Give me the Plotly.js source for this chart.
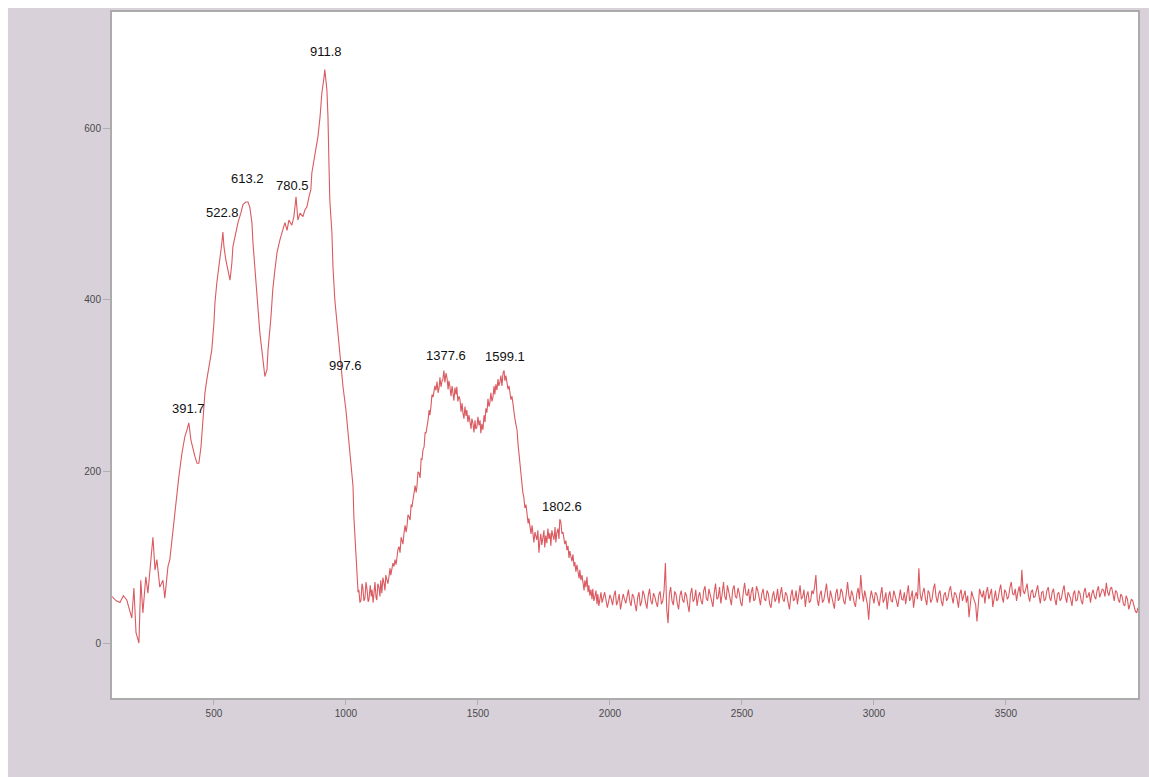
<!DOCTYPE html>
<html>
<head>
<meta charset="utf-8">
<script src="https://cdn.plot.ly/plotly-3.0.1.min.js"></script>
<style>html,body{margin:0;padding:0;background:#fff;}#chart{width:1149px;height:777px;}</style>
</head>
<body>
<div id="chart"></div>
<script>
// Raman shift (cm-1), low-wavenumber band region
const shiftLow = [
  114,130,144,157,170,180,189,197,205,216,
  223,231,242,250,261,269,277,284,295,307,
  314,326,333,345,356,367,379,390,398,405,
  413,420,428,436,443,451,458,466,473,492,
  500,504,511,519,530,534,538,545,553,561,
  568,572,583,591,602,610,621,629,636,644,
  648,655,663,674,686,693,701,705,716,723,
  731,739,750,761,769,777,784,795,803,811,
  818,826,837,845,852,860,867,871,879,886,
  894,902,909,917,920,928,932,936,939,947,
  951,958,966,973,981,989,1000,1008,1019,1027,
  1030,1038
];
const intensityLow = [
  55,50,48,56,51,40,30,65,13,1,
  74,36,78,59,98,124,86,98,66,74,
  53,90,98,133,167,194,222,241,249,257,
  237,226,218,210,210,229,260,292,307,342,
  373,397,420,438,466,479,462,447,435,423,
  443,462,478,490,501,511,514,514,508,490,
  466,438,400,362,330,311,319,342,380,412,
  435,455,470,481,490,481,493,487,497,520,
  493,501,497,505,508,520,528,548,563,575,
  590,613,641,659,668,644,613,555,516,478,
  438,400,373,350,322,299,272,245,214,183,
  148,109
];
// Mid region (valley, 1377/1599 doublet, 1802 shoulder)
const shiftMid = [
  1042,1046,1049,1053,1057,1061,1064,1068,1072,1076,
  1080,1084,1087,1092,1096,1099,1103,1106,1110,1114,
  1117,1121,1125,1129,1132,1136,1140,1144,1148,1151,
  1155,1159,1163,1167,1170,1174,1178,1182,1186,1190,
  1193,1197,1201,1205,1209,1212,1216,1220,1224,1228,
  1231,1235,1239,1243,1247,1250,1254,1258,1262,1266,
  1269,1273,1277,1281,1285,1288,1292,1296,1300,1303,
  1307,1311,1315,1318,1322,1326,1330,1334,1337,1341,
  1345,1349,1353,1356,1360,1364,1367,1371,1375,1379,
  1383,1387,1390,1394,1398,1402,1405,1409,1413,1417,
  1420,1424,1428,1432,1436,1440,1443,1447,1451,1455,
  1458,1462,1466,1470,1474,1477,1481,1485,1489,1492,
  1496,1500,1504,1508,1511,1515,1519,1523,1527,1530,
  1534,1538,1542,1545,1549,1553,1557,1561,1564,1568,
  1572,1576,1579,1583,1587,1591,1595,1599,1602,1606,
  1610,1614,1618,1621,1625,1629,1633,1637,1640,1644,
  1648,1652,1655,1659,1663,1666,1670,1674,1678,1682,
  1686,1690,1693,1697,1701,1705,1708,1712,1716,1719,
  1723,1727,1731,1735,1738,1742,1746,1750,1753,1757,
  1761,1765,1769,1773,1776,1780,1784,1788,1792,1795,
  1799,1803,1807,1810,1814,1818,1822,1826,1829,1833,
  1837,1841,1845,1848,1852,1856,1860,1864,1867,1871,
  1875,1879,1883,1886,1890,1894,1898,1902,1905,1909,
  1913,1917,1920,1924,1928,1932,1935,1939,1943,1947,
  1951,1954,1958,1962,1966
];
const intensityMid = [
  78,60,63,48,51,70,66,50,53,72,
  63,49,51,68,55,63,48,59,72,54,
  51,70,66,55,74,59,77,71,62,80,
  74,70,78,88,80,86,94,90,98,92,
  101,110,113,106,124,121,116,129,138,130,
  136,150,148,144,162,159,168,171,184,176,
  183,200,199,193,216,214,226,229,246,245,
  252,260,272,266,276,290,287,294,300,295,
  305,292,298,310,299,306,307,318,304,315,
  309,296,306,299,288,300,292,283,298,290,
  299,282,288,284,270,280,269,262,276,265,
  272,258,266,260,250,262,257,246,260,250,
  252,264,254,260,245,256,249,266,258,274,
  269,285,276,280,292,282,287,300,290,302,
  295,308,300,304,312,300,315,318,306,312,
  304,296,300,295,284,288,276,268,262,255,
  249,232,222,210,196,188,176,170,158,162,
  152,140,146,136,128,138,129,118,130,124,
  121,132,106,120,128,115,124,132,112,126,
  117,134,122,129,114,132,126,121,136,118,
  129,134,122,145,142,128,130,124,116,120,
  109,114,100,108,101,96,104,90,95,84,
  92,83,76,86,74,80,71,62,74,66,
  78,60,68,56,63,52,64,50,55,62,
  46,58,44,51,60
];
// Baseline region
const shiftHigh = [
  1970,1975,1980,1985,1990,1995,2000,2005,2010,2015,2020,2025,2030,2035,2040,2045,2050,2055,2060,2065,
  2070,2075,2080,2085,2090,2095,2100,2105,2110,2115,2120,2125,2130,2135,2140,2145,2150,2155,2160,2165,
  2170,2175,2180,2185,2190,2195,2200,2205,2210,2215,2220,2225,2230,2235,2240,2245,2250,2255,2260,2265,
  2270,2275,2280,2285,2290,2295,2300,2305,2310,2315,2320,2325,2330,2335,2340,2345,2350,2355,2360,2365,
  2370,2375,2380,2385,2390,2395,2400,2405,2410,2415,2420,2425,2430,2435,2440,2445,2450,2455,2460,2465,
  2470,2475,2480,2485,2490,2495,2500,2505,2510,2515,2520,2525,2530,2535,2540,2545,2550,2555,2560,2565,
  2570,2575,2580,2585,2590,2595,2600,2605,2610,2615,2620,2625,2630,2635,2640,2645,2650,2655,2660,2665,
  2670,2675,2680,2685,2690,2695,2700,2705,2710,2715,2720,2725,2730,2735,2740,2745,2750,2755,2760,2765,
  2770,2775,2780,2785,2790,2795,2800,2805,2810,2815,2820,2825,2830,2835,2840,2845,2850,2855,2860,2865,
  2870,2875,2880,2885,2890,2895,2900,2905,2910,2915,2920,2925,2930,2935,2940,2945,2950,2955,2960,2965,
  2970,2975,2980,2985,2990,2995,3000,3005,3010,3015,3020,3025,3030,3035,3040,3045,3050,3055,3060,3065,
  3070,3075,3080,3085,3090,3095,3100,3105,3110,3115,3120,3125,3130,3135,3140,3145,3150,3155,3160,3165,
  3170,3175,3180,3185,3190,3195,3200,3205,3210,3215,3220,3225,3230,3235,3240,3245,3250,3255,3260,3265,
  3270,3275,3280,3285,3290,3295,3300,3305,3310,3315,3320,3325,3330,3335,3340,3345,3350,3355,3360,3365,
  3370,3375,3380,3385,3390,3395,3400,3405,3410,3415,3420,3425,3430,3435,3440,3445,3450,3455,3460,3465,
  3470,3475,3480,3485,3490,3495,3500,3505,3510,3515,3520,3525,3530,3535,3540,3545,3550,3555,3560,3565,
  3570,3575,3580,3585,3590,3595,3600,3605,3610,3615,3620,3625,3630,3635,3640,3645,3650,3655,3660,3665,
  3670,3675,3680,3685,3690,3695,3700,3705,3710,3715,3720,3725,3730,3735,3740,3745,3750,3755,3760,3765,
  3770,3775,3780,3785,3790,3795,3800,3805,3810,3815,3820,3825,3830,3835,3840,3845,3850,3855,3860,3865,
  3870,3875,3880,3885,3890,3895,3900,3905,3910,3915,3920,3925,3930,3935,3940,3945,3950,3955,3960,3965,
  3970,3975,3980,3985,3990,3995,4000
];
const intensityHigh = [
  48,55,60,51,42,49,57,52,45,56,62,45,50,58,40,49,58,52,47,55,
  63,50,44,58,55,46,38,54,60,44,49,62,57,48,41,56,64,50,46,59,
  55,48,43,57,61,46,50,62,94,40,24,58,66,50,45,61,58,47,40,56,
  62,51,48,60,56,45,37,58,65,49,52,63,44,55,60,50,46,62,67,53,
  50,64,58,49,43,60,70,52,54,66,47,58,72,55,51,68,61,50,45,63,
  68,55,53,65,59,48,44,60,71,58,56,64,48,60,66,50,52,67,62,54,
  45,58,64,52,50,62,58,46,42,55,61,49,53,64,47,58,66,52,49,60,
  57,48,40,56,63,50,52,62,46,57,68,52,55,63,43,56,61,48,50,62,
  58,66,80,52,44,57,62,48,51,60,70,55,47,62,56,50,41,58,64,50,
  53,64,60,50,46,58,72,56,50,62,57,48,43,58,65,52,80,60,49,62,
  55,46,28,52,62,54,47,60,58,50,44,57,66,48,52,60,40,55,61,50,
  49,62,57,50,43,56,63,52,51,60,46,58,68,50,54,62,42,55,60,52,
  88,58,50,60,65,52,45,62,59,48,52,64,70,55,48,58,62,50,44,57,
  60,50,53,62,67,55,47,60,58,52,42,58,63,50,55,62,48,56,31,48,
  61,55,50,46,26,52,64,58,54,62,47,60,66,52,58,64,43,55,62,50,
  52,62,69,55,48,63,60,52,55,66,72,58,57,64,50,60,67,55,86,62,
  58,64,70,56,49,60,63,54,55,62,68,56,47,60,61,50,52,62,66,54,
  50,60,64,52,45,58,60,50,53,62,68,55,48,60,57,52,44,58,62,50,
  51,62,59,50,46,60,65,54,55,60,48,58,63,55,52,62,67,54,58,64,
  62,55,71,60,56,64,66,58,50,62,60,52,48,58,55,46,44,56,52,40,
  45,52,50,44,38,36,42
];

// Peak labels and where they sit (data units)
const peakLabels = ["391.7","522.8","613.2","780.5","911.8","997.6","1377.6","1599.1","1802.6"];
const peakLabelX = [405, 534, 626, 796, 926, 997, 1379, 1602, 1819];
const peakLabelY = [274, 502, 541, 533, 689, 324, 336, 334, 160];

const xTicks = [500, 1000, 1500, 2000, 2500, 3000, 3500];
const yTicks = [0, 200, 400, 600];

const shift = shiftLow.concat(shiftMid, shiftHigh);
const intensity = intensityLow.concat(intensityMid, intensityHigh);

const trace = {
  x: shift, y: intensity, type: 'scatter', mode: 'lines',
  line: {color: '#da5a60', width: 1.1},
  hoverinfo: 'x+y', showlegend: false
};

const annotations = peakLabels.map((t, i) => ({
  x: peakLabelX[i], y: peakLabelY[i], xref: 'x', yref: 'y',
  text: t, showarrow: false, xanchor: 'center', yanchor: 'middle',
  font: {family: 'Liberation Sans, Arial, sans-serif', size: 13, color: '#111'}
}));

const tickFont = {family: 'Liberation Sans, Arial, sans-serif', size: 10, color: '#4a4a4a'};

const layout = {
  width: 1149, height: 777,
  margin: {l: 112, r: 11, t: 12, b: 79},
  paper_bgcolor: '#ffffff',
  plot_bgcolor: 'rgba(0,0,0,0)',
  showlegend: false,
  xaxis: {
    range: [114, 4000], tickvals: xTicks, ticktext: xTicks.map(String),
    ticks: 'outside', ticklen: 5, tickcolor: '#b0b0b0', tickfont: tickFont,
    showgrid: false, zeroline: false,
    showline: true, mirror: true, linecolor: '#ababab', linewidth: 2
  },
  yaxis: {
    range: [-63, 735], tickvals: yTicks, ticktext: yTicks.map(String),
    ticks: 'outside', ticklen: 7, tickcolor: '#b0b0b0', tickfont: tickFont,
    showgrid: false, zeroline: false,
    showline: true, mirror: true, linecolor: '#ababab', linewidth: 2
  },
  shapes: [
    {type: 'rect', xref: 'paper', yref: 'paper', x0: -0.1014, x1: 1.0107, y0: -0.1152, y1: 1.0058,
     fillcolor: '#d8d1da', line: {width: 0}, layer: 'below'},
    {type: 'rect', xref: 'paper', yref: 'paper', x0: 0, x1: 1, y0: 0, y1: 1,
     fillcolor: '#ffffff', line: {width: 0}, layer: 'below'}
  ],
  annotations: annotations
};

Plotly.newPlot('chart', [trace], layout, {displayModeBar: false, staticPlot: true});
</script>
</body>
</html>
